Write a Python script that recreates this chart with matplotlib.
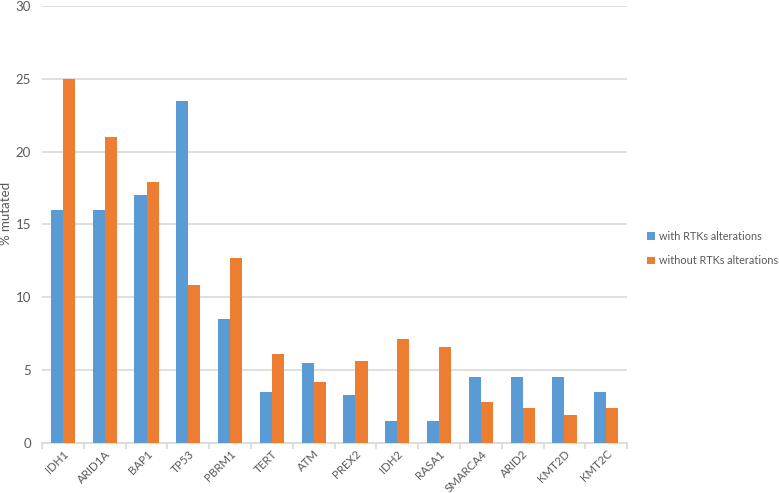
import matplotlib.pyplot as plt
import numpy as np

genes = ["IDH1", "ARID1A", "BAP1", "TP53", "PBRM1", "TERT", "ATM", "PREX2",
         "IDH2", "RASA1", "SMARCA4", "ARID2", "KMT2D", "KMT2C"]
with_rtk = [16.0, 16.0, 17.0, 23.5, 8.5, 3.5, 5.5, 3.3, 1.5, 1.5, 4.5, 4.5, 4.5, 3.5]
without_rtk = [25.0, 21.0, 17.9, 10.8, 12.7, 6.1, 4.2, 5.6, 7.1, 6.6, 2.8, 2.4, 1.9, 2.4]
yticks = [0, 5, 10, 15, 20, 25, 30]

BLUE = "#5B9BD5"
ORANGE = "#ED7D31"
GRID = "#D9D9D9"
TEXT = "#595959"

plt.rcParams["font.family"] = ["Lato", "DejaVu Sans"]

fig = plt.figure(figsize=(7.79, 4.93), dpi=100)
ax = fig.add_axes([0.054, 0.102, 0.751, 0.886])

x = np.arange(len(genes))
w = 0.29
b1 = ax.bar(x - w / 2, with_rtk, w, color=BLUE, label="with RTKs alterations", zorder=3)
b2 = ax.bar(x + w / 2, without_rtk, w, color=ORANGE, label="without RTKs alterations", zorder=3)

ax.set_xlim(-0.5, len(genes) - 0.5)
ax.set_ylim(0, 30)
ax.set_yticks(yticks)
ax.yaxis.grid(True, color=GRID, linewidth=1.2, zorder=0)
ax.tick_params(axis="y", length=0, colors=TEXT, labelsize=9.5, pad=8)

# category labels sit at centres, tick marks at boundaries
ax.set_xticks(x)
ax.set_xticklabels(genes, rotation=45, ha="right", rotation_mode="anchor",
                   fontsize=8.3, color=TEXT)
ax.tick_params(axis="x", which="major", length=0, pad=4)
ax.set_xticks(np.arange(-0.5, len(genes)), minor=True)
ax.tick_params(axis="x", which="minor", length=4, color=GRID, width=1.2)

for side in ["top", "right", "left"]:
    ax.spines[side].set_visible(False)
ax.spines["bottom"].set_color(GRID)
ax.spines["bottom"].set_linewidth(1.2)

ax.set_ylabel("% mutated", color=TEXT, fontsize=9.5)
ax.yaxis.set_label_coords(-0.051, 0.524)

ax.legend(handles=[b1, b2], loc="center left", bbox_to_anchor=(1.018, 0.445),
          frameon=False, fontsize=7.8, labelcolor=TEXT, handlelength=0.7,
          handleheight=0.7, handletextpad=0.4, labelspacing=1.25)

fig.savefig("out.png", dpi=100)
